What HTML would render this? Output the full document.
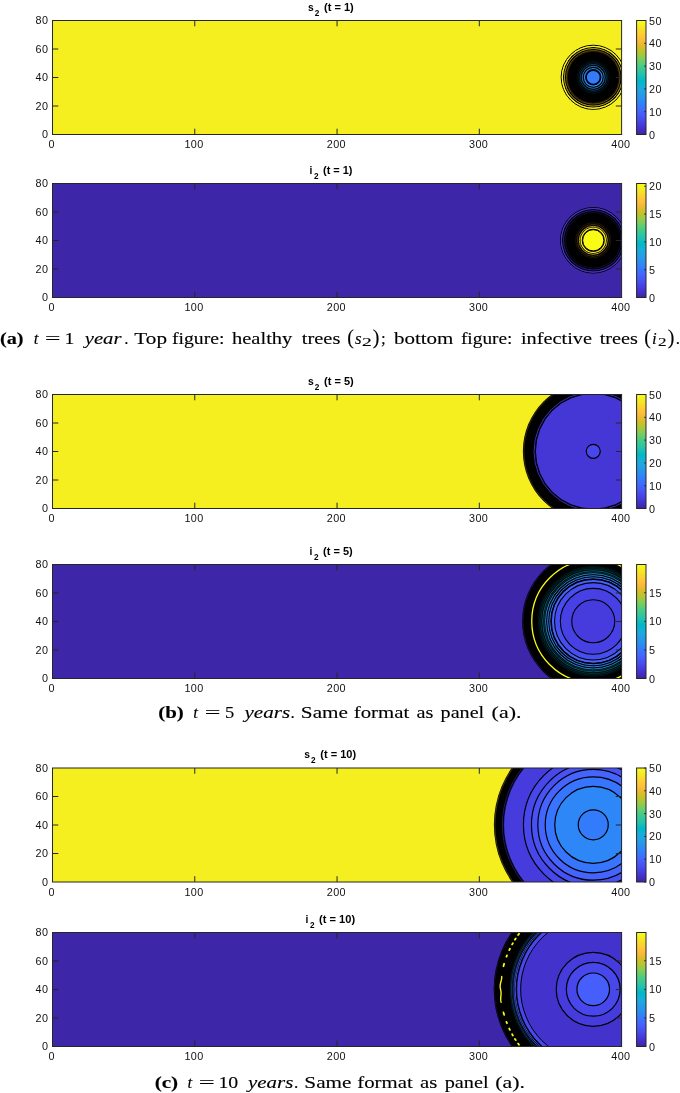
<!DOCTYPE html><html><head><meta charset="utf-8"><style>html,body{margin:0;padding:0;background:#fff;width:680px;height:1093px;overflow:hidden}svg{display:block}.tk{font-family:"Liberation Sans",Arial,Helvetica,sans-serif;font-size:10.8px;fill:#111}.tt{font-family:"Liberation Sans",Arial,Helvetica,sans-serif;font-size:10.3px;font-weight:bold;fill:#000}.ts{font-family:"Liberation Sans",Arial,Helvetica,sans-serif;font-size:8.2px;font-weight:bold;fill:#000}.cap{font-family:"Liberation Serif","DejaVu Serif",serif;fill:#000;stroke:#000;stroke-width:0.12px}.b{font-weight:bold}.i{font-style:italic}</style></head><body><svg width="680" height="1093" viewBox="0 0 680 1093"><defs><linearGradient id="pg" x1="0" y1="1" x2="0" y2="0"><stop offset="0.0078" stop-color="#3e26a8"/><stop offset="0.0234" stop-color="#402ab4"/><stop offset="0.0391" stop-color="#422ec0"/><stop offset="0.0547" stop-color="#4332cb"/><stop offset="0.0703" stop-color="#4537d5"/><stop offset="0.0859" stop-color="#463cde"/><stop offset="0.1016" stop-color="#4741e5"/><stop offset="0.1172" stop-color="#4747eb"/><stop offset="0.1328" stop-color="#484df0"/><stop offset="0.1484" stop-color="#4852f4"/><stop offset="0.1641" stop-color="#4758f8"/><stop offset="0.1797" stop-color="#465efb"/><stop offset="0.1953" stop-color="#4563fd"/><stop offset="0.2109" stop-color="#4269fe"/><stop offset="0.2266" stop-color="#3e6fff"/><stop offset="0.2422" stop-color="#3875fe"/><stop offset="0.2578" stop-color="#327cfc"/><stop offset="0.2734" stop-color="#2f81fa"/><stop offset="0.2891" stop-color="#2e87f7"/><stop offset="0.3047" stop-color="#2d8cf3"/><stop offset="0.3203" stop-color="#2b91ef"/><stop offset="0.3359" stop-color="#2797eb"/><stop offset="0.3516" stop-color="#259be8"/><stop offset="0.3672" stop-color="#23a0e5"/><stop offset="0.3828" stop-color="#20a5e3"/><stop offset="0.3984" stop-color="#1ca9df"/><stop offset="0.4141" stop-color="#18addb"/><stop offset="0.4297" stop-color="#12b1d6"/><stop offset="0.4453" stop-color="#08b5d0"/><stop offset="0.4609" stop-color="#01b8ca"/><stop offset="0.4766" stop-color="#02bac3"/><stop offset="0.4922" stop-color="#0bbdbd"/><stop offset="0.5078" stop-color="#19bfb6"/><stop offset="0.5234" stop-color="#24c1ae"/><stop offset="0.5391" stop-color="#2cc4a7"/><stop offset="0.5547" stop-color="#31c69f"/><stop offset="0.5703" stop-color="#37c897"/><stop offset="0.5859" stop-color="#3fca8e"/><stop offset="0.6016" stop-color="#4acb84"/><stop offset="0.6172" stop-color="#57cc7a"/><stop offset="0.6328" stop-color="#64cd6f"/><stop offset="0.6484" stop-color="#72cd64"/><stop offset="0.6641" stop-color="#81cc59"/><stop offset="0.6797" stop-color="#8fcb4e"/><stop offset="0.6953" stop-color="#9dc943"/><stop offset="0.7109" stop-color="#abc739"/><stop offset="0.7266" stop-color="#b9c431"/><stop offset="0.7422" stop-color="#c5c22a"/><stop offset="0.7578" stop-color="#d1bf27"/><stop offset="0.7734" stop-color="#dcbd29"/><stop offset="0.7891" stop-color="#e6bb2d"/><stop offset="0.8047" stop-color="#f0ba36"/><stop offset="0.8203" stop-color="#f8ba3d"/><stop offset="0.8359" stop-color="#febe3c"/><stop offset="0.8516" stop-color="#fec338"/><stop offset="0.8672" stop-color="#fec934"/><stop offset="0.8828" stop-color="#fccf30"/><stop offset="0.8984" stop-color="#fad62d"/><stop offset="0.9141" stop-color="#f7dc2a"/><stop offset="0.9297" stop-color="#f5e327"/><stop offset="0.9453" stop-color="#f5e924"/><stop offset="0.9609" stop-color="#f6ef20"/><stop offset="0.9766" stop-color="#f7f51b"/><stop offset="0.9922" stop-color="#f9fb15"/></linearGradient><clipPath id="c0"><rect x="52.50" y="20.50" width="569.10" height="114.00"/></clipPath><clipPath id="c1"><rect x="52.50" y="183.50" width="569.10" height="114.00"/></clipPath><clipPath id="c2"><rect x="52.50" y="394.50" width="569.10" height="114.00"/></clipPath><clipPath id="c3"><rect x="52.50" y="564.50" width="569.10" height="114.00"/></clipPath><clipPath id="c4"><rect x="52.50" y="768.00" width="569.10" height="114.00"/></clipPath><clipPath id="c5"><rect x="52.50" y="932.50" width="569.10" height="114.00"/></clipPath></defs><g><rect x="52.50" y="20.50" width="569.10" height="114.00" fill="#f6ef20"/><g clip-path="url(#c0)"><circle cx="593.25" cy="77.30" r="32.10" fill="none" stroke="#000" stroke-width="1.00"/><circle cx="593.25" cy="77.30" r="30.40" fill="#000"/><circle cx="593.25" cy="77.30" r="30.90" fill="none" stroke="#f7f51b" stroke-width="1.00"/><circle cx="593.25" cy="77.30" r="28.80" fill="none" stroke="#f7dc2a" stroke-width="0.90" opacity="0.85"/><circle cx="593.25" cy="77.30" r="26.80" fill="none" stroke="#febe3c" stroke-width="0.90" opacity="0.45"/><circle cx="593.25" cy="77.30" r="25.80" fill="none" stroke="#e6bb2d" stroke-width="0.80" opacity="0.15"/><circle cx="593.25" cy="77.30" r="16.20" fill="none" stroke="#18addb" stroke-width="0.80" opacity="0.12"/><circle cx="593.25" cy="77.30" r="14.60" fill="none" stroke="#20a5e3" stroke-width="0.80" opacity="0.22"/><circle cx="593.25" cy="77.30" r="13.00" fill="none" stroke="#259be8" stroke-width="0.90" opacity="0.45"/><circle cx="593.25" cy="77.30" r="11.00" fill="none" stroke="#2b91ef" stroke-width="1.00" opacity="0.80"/><circle cx="593.25" cy="77.30" r="8.80" fill="none" stroke="#2e87f7" stroke-width="1.20"/><circle cx="593.25" cy="77.30" r="7.00" fill="#327cfc" stroke="#000" stroke-width="1.20"/></g><path d="M194.78 134.50v-5.8M194.78 20.50v5.8M337.05 134.50v-5.8M337.05 20.50v5.8M479.32 134.50v-5.8M479.32 20.50v5.8M52.50 106.00h5.8M621.60 106.00h-5.8M52.50 77.50h5.8M621.60 77.50h-5.8M52.50 49.00h5.8M621.60 49.00h-5.8" stroke="#262626" stroke-width="1" fill="none"/><rect x="52.50" y="20.50" width="569.10" height="114.00" fill="none" stroke="#262626" stroke-width="1"/><text class="tk" x="47.9" y="138.40" text-anchor="end" textLength="6.25" lengthAdjust="spacing">0</text><text class="tk" x="47.9" y="109.90" text-anchor="end" textLength="12.50" lengthAdjust="spacing">20</text><text class="tk" x="47.9" y="81.40" text-anchor="end" textLength="12.50" lengthAdjust="spacing">40</text><text class="tk" x="47.9" y="52.90" text-anchor="end" textLength="12.50" lengthAdjust="spacing">60</text><text class="tk" x="47.9" y="24.40" text-anchor="end" textLength="12.50" lengthAdjust="spacing">80</text><text class="tk" x="51.60" y="148.20" text-anchor="middle" textLength="6.25" lengthAdjust="spacing">0</text><text class="tk" x="193.88" y="148.20" text-anchor="middle" textLength="18.75" lengthAdjust="spacing">100</text><text class="tk" x="336.15" y="148.20" text-anchor="middle" textLength="18.75" lengthAdjust="spacing">200</text><text class="tk" x="478.43" y="148.20" text-anchor="middle" textLength="18.75" lengthAdjust="spacing">300</text><text class="tk" x="620.70" y="148.20" text-anchor="middle" textLength="18.75" lengthAdjust="spacing">400</text><text class="tt" x="307.90" y="10.50">s</text><text class="ts" x="314.70" y="15.50">2</text><text class="tt" x="324.00" y="10.50" textLength="29.80" lengthAdjust="spacingAndGlyphs">(t = 1)</text><rect x="636.60" y="20.50" width="9.40" height="114.00" fill="url(#pg)" stroke="#262626" stroke-width="1"/><text class="tk" x="649.0" y="138.50" textLength="6.25" lengthAdjust="spacing">0</text><text class="tk" x="649.0" y="115.70" textLength="12.50" lengthAdjust="spacing">10</text><text class="tk" x="649.0" y="92.90" textLength="12.50" lengthAdjust="spacing">20</text><text class="tk" x="649.0" y="70.10" textLength="12.50" lengthAdjust="spacing">30</text><text class="tk" x="649.0" y="47.30" textLength="12.50" lengthAdjust="spacing">40</text><text class="tk" x="649.0" y="24.50" textLength="12.50" lengthAdjust="spacing">50</text><path d="M646.00 134.50h-1.8M646.00 111.70h-1.8M646.00 88.90h-1.8M646.00 66.10h-1.8M646.00 43.30h-1.8M646.00 20.50h-1.8" stroke="#262626" stroke-width="1" fill="none"/></g><g><rect x="52.50" y="183.50" width="569.10" height="114.00" fill="#3e26a8"/><g clip-path="url(#c1)"><circle cx="593.25" cy="240.30" r="32.80" fill="none" stroke="#000" stroke-width="1.00"/><circle cx="593.25" cy="240.30" r="31.30" fill="#000"/><circle cx="593.25" cy="240.30" r="31.90" fill="none" stroke="#4537d5" stroke-width="1.00"/><circle cx="593.25" cy="240.30" r="29.70" fill="none" stroke="#4332cb" stroke-width="0.90" opacity="0.70"/><circle cx="593.25" cy="240.30" r="27.70" fill="none" stroke="#422ec0" stroke-width="0.80" opacity="0.30"/><circle cx="593.25" cy="240.30" r="17.50" fill="none" stroke="#d1bf27" stroke-width="0.80" opacity="0.15"/><circle cx="593.25" cy="240.30" r="16.00" fill="none" stroke="#f8ba3d" stroke-width="0.80" opacity="0.30"/><circle cx="593.25" cy="240.30" r="14.00" fill="none" stroke="#fad62d" stroke-width="1.00" opacity="0.75"/><circle cx="593.25" cy="240.30" r="12.10" fill="none" stroke="#f6ef20" stroke-width="1.30"/><circle cx="593.25" cy="240.30" r="10.60" fill="#f9fb15" stroke="#000" stroke-width="1.00"/></g><path d="M194.78 297.50v-5.8M194.78 183.50v5.8M337.05 297.50v-5.8M337.05 183.50v5.8M479.32 297.50v-5.8M479.32 183.50v5.8M52.50 269.00h5.8M621.60 269.00h-5.8M52.50 240.50h5.8M621.60 240.50h-5.8M52.50 212.00h5.8M621.60 212.00h-5.8" stroke="#262626" stroke-width="1" fill="none"/><rect x="52.50" y="183.50" width="569.10" height="114.00" fill="none" stroke="#262626" stroke-width="1"/><text class="tk" x="47.9" y="301.40" text-anchor="end" textLength="6.25" lengthAdjust="spacing">0</text><text class="tk" x="47.9" y="272.90" text-anchor="end" textLength="12.50" lengthAdjust="spacing">20</text><text class="tk" x="47.9" y="244.40" text-anchor="end" textLength="12.50" lengthAdjust="spacing">40</text><text class="tk" x="47.9" y="215.90" text-anchor="end" textLength="12.50" lengthAdjust="spacing">60</text><text class="tk" x="47.9" y="187.40" text-anchor="end" textLength="12.50" lengthAdjust="spacing">80</text><text class="tk" x="51.60" y="311.20" text-anchor="middle" textLength="6.25" lengthAdjust="spacing">0</text><text class="tk" x="193.88" y="311.20" text-anchor="middle" textLength="18.75" lengthAdjust="spacing">100</text><text class="tk" x="336.15" y="311.20" text-anchor="middle" textLength="18.75" lengthAdjust="spacing">200</text><text class="tk" x="478.43" y="311.20" text-anchor="middle" textLength="18.75" lengthAdjust="spacing">300</text><text class="tk" x="620.70" y="311.20" text-anchor="middle" textLength="18.75" lengthAdjust="spacing">400</text><text class="tt" x="309.50" y="173.50">i</text><text class="ts" x="314.10" y="178.50">2</text><text class="tt" x="323.00" y="173.50" textLength="29.50" lengthAdjust="spacingAndGlyphs">(t = 1)</text><rect x="636.60" y="183.50" width="9.40" height="114.00" fill="url(#pg)" stroke="#262626" stroke-width="1"/><text class="tk" x="649.0" y="301.50" textLength="6.25" lengthAdjust="spacing">0</text><text class="tk" x="649.0" y="273.68" textLength="6.25" lengthAdjust="spacing">5</text><text class="tk" x="649.0" y="245.86" textLength="12.50" lengthAdjust="spacing">10</text><text class="tk" x="649.0" y="218.04" textLength="12.50" lengthAdjust="spacing">15</text><text class="tk" x="649.0" y="190.23" textLength="12.50" lengthAdjust="spacing">20</text><path d="M646.00 297.50h-1.8M646.00 269.68h-1.8M646.00 241.86h-1.8M646.00 214.04h-1.8M646.00 186.23h-1.8" stroke="#262626" stroke-width="1" fill="none"/></g><g><rect x="52.50" y="394.50" width="569.10" height="114.00" fill="#f6ef20"/><g clip-path="url(#c2)"><circle cx="593.25" cy="451.30" r="70.40" fill="#000"/><circle cx="593.25" cy="451.30" r="69.40" fill="none" stroke="#fccf30" stroke-width="0.70" opacity="0.30"/><circle cx="593.25" cy="451.30" r="59.20" fill="none" stroke="#4537d5" stroke-width="1.00" opacity="0.85"/><circle cx="593.25" cy="451.30" r="57.80" fill="#4537d5" stroke="#000" stroke-width="1.00"/><circle cx="593.25" cy="451.30" r="7.00" fill="#4747eb" stroke="#000" stroke-width="1.20"/></g><path d="M194.78 508.50v-5.8M194.78 394.50v5.8M337.05 508.50v-5.8M337.05 394.50v5.8M479.32 508.50v-5.8M479.32 394.50v5.8M52.50 480.00h5.8M621.60 480.00h-5.8M52.50 451.50h5.8M621.60 451.50h-5.8M52.50 423.00h5.8M621.60 423.00h-5.8" stroke="#262626" stroke-width="1" fill="none"/><rect x="52.50" y="394.50" width="569.10" height="114.00" fill="none" stroke="#262626" stroke-width="1"/><text class="tk" x="47.9" y="512.40" text-anchor="end" textLength="6.25" lengthAdjust="spacing">0</text><text class="tk" x="47.9" y="483.90" text-anchor="end" textLength="12.50" lengthAdjust="spacing">20</text><text class="tk" x="47.9" y="455.40" text-anchor="end" textLength="12.50" lengthAdjust="spacing">40</text><text class="tk" x="47.9" y="426.90" text-anchor="end" textLength="12.50" lengthAdjust="spacing">60</text><text class="tk" x="47.9" y="398.40" text-anchor="end" textLength="12.50" lengthAdjust="spacing">80</text><text class="tk" x="51.60" y="522.20" text-anchor="middle" textLength="6.25" lengthAdjust="spacing">0</text><text class="tk" x="193.88" y="522.20" text-anchor="middle" textLength="18.75" lengthAdjust="spacing">100</text><text class="tk" x="336.15" y="522.20" text-anchor="middle" textLength="18.75" lengthAdjust="spacing">200</text><text class="tk" x="478.43" y="522.20" text-anchor="middle" textLength="18.75" lengthAdjust="spacing">300</text><text class="tk" x="620.70" y="522.20" text-anchor="middle" textLength="18.75" lengthAdjust="spacing">400</text><text class="tt" x="307.90" y="384.50">s</text><text class="ts" x="314.70" y="389.50">2</text><text class="tt" x="324.00" y="384.50" textLength="29.80" lengthAdjust="spacingAndGlyphs">(t = 5)</text><rect x="636.60" y="394.50" width="9.40" height="114.00" fill="url(#pg)" stroke="#262626" stroke-width="1"/><text class="tk" x="649.0" y="512.50" textLength="6.25" lengthAdjust="spacing">0</text><text class="tk" x="649.0" y="489.70" textLength="12.50" lengthAdjust="spacing">10</text><text class="tk" x="649.0" y="466.90" textLength="12.50" lengthAdjust="spacing">20</text><text class="tk" x="649.0" y="444.10" textLength="12.50" lengthAdjust="spacing">30</text><text class="tk" x="649.0" y="421.30" textLength="12.50" lengthAdjust="spacing">40</text><text class="tk" x="649.0" y="398.50" textLength="12.50" lengthAdjust="spacing">50</text><path d="M646.00 508.50h-1.8M646.00 485.70h-1.8M646.00 462.90h-1.8M646.00 440.10h-1.8M646.00 417.30h-1.8M646.00 394.50h-1.8" stroke="#262626" stroke-width="1" fill="none"/></g><g><rect x="52.50" y="564.50" width="569.10" height="114.00" fill="#3e26a8"/><g clip-path="url(#c3)"><circle cx="593.25" cy="621.30" r="71.20" fill="#000"/><circle cx="593.25" cy="621.30" r="70.30" fill="none" stroke="#402ab4" stroke-width="0.70" opacity="0.50"/><circle cx="593.25" cy="621.30" r="61.50" fill="none" stroke="#f9fb15" stroke-width="1.30"/><circle cx="593.25" cy="621.30" r="55.00" fill="none" stroke="#08b5d0" stroke-width="0.90" opacity="0.12"/><circle cx="593.25" cy="621.30" r="53.80" fill="none" stroke="#08b5d0" stroke-width="0.90" opacity="0.20"/><circle cx="593.25" cy="621.30" r="52.40" fill="none" stroke="#08b5d0" stroke-width="0.90" opacity="0.30"/><circle cx="593.25" cy="621.30" r="50.60" fill="none" stroke="#12b1d6" stroke-width="0.90" opacity="0.55"/><circle cx="593.25" cy="621.30" r="49.20" fill="none" stroke="#1ca9df" stroke-width="0.90" opacity="0.30"/><circle cx="593.25" cy="621.30" r="47.70" fill="none" stroke="#259be8" stroke-width="1.00" opacity="0.85"/><circle cx="593.25" cy="621.30" r="45.60" fill="none" stroke="#2e87f7" stroke-width="1.00" opacity="0.95"/><circle cx="593.25" cy="621.30" r="43.50" fill="none" stroke="#3875fe" stroke-width="1.00"/><circle cx="593.25" cy="621.30" r="41.90" fill="#4563fd" stroke="#000" stroke-width="1.10"/><circle cx="593.25" cy="621.30" r="38.70" fill="#484df0" stroke="#000" stroke-width="1.10"/><circle cx="593.25" cy="621.30" r="32.90" fill="#4741e5" stroke="#000" stroke-width="1.10"/><circle cx="593.25" cy="621.30" r="21.50" fill="#463cde" stroke="#000" stroke-width="1.10"/></g><path d="M194.78 678.50v-5.8M194.78 564.50v5.8M337.05 678.50v-5.8M337.05 564.50v5.8M479.32 678.50v-5.8M479.32 564.50v5.8M52.50 650.00h5.8M621.60 650.00h-5.8M52.50 621.50h5.8M621.60 621.50h-5.8M52.50 593.00h5.8M621.60 593.00h-5.8" stroke="#262626" stroke-width="1" fill="none"/><rect x="52.50" y="564.50" width="569.10" height="114.00" fill="none" stroke="#262626" stroke-width="1"/><text class="tk" x="47.9" y="682.40" text-anchor="end" textLength="6.25" lengthAdjust="spacing">0</text><text class="tk" x="47.9" y="653.90" text-anchor="end" textLength="12.50" lengthAdjust="spacing">20</text><text class="tk" x="47.9" y="625.40" text-anchor="end" textLength="12.50" lengthAdjust="spacing">40</text><text class="tk" x="47.9" y="596.90" text-anchor="end" textLength="12.50" lengthAdjust="spacing">60</text><text class="tk" x="47.9" y="568.40" text-anchor="end" textLength="12.50" lengthAdjust="spacing">80</text><text class="tk" x="51.60" y="692.20" text-anchor="middle" textLength="6.25" lengthAdjust="spacing">0</text><text class="tk" x="193.88" y="692.20" text-anchor="middle" textLength="18.75" lengthAdjust="spacing">100</text><text class="tk" x="336.15" y="692.20" text-anchor="middle" textLength="18.75" lengthAdjust="spacing">200</text><text class="tk" x="478.43" y="692.20" text-anchor="middle" textLength="18.75" lengthAdjust="spacing">300</text><text class="tk" x="620.70" y="692.20" text-anchor="middle" textLength="18.75" lengthAdjust="spacing">400</text><text class="tt" x="309.50" y="554.50">i</text><text class="ts" x="314.10" y="559.50">2</text><text class="tt" x="323.00" y="554.50" textLength="29.70" lengthAdjust="spacingAndGlyphs">(t = 5)</text><rect x="636.60" y="564.50" width="9.40" height="114.00" fill="url(#pg)" stroke="#262626" stroke-width="1"/><text class="tk" x="649.0" y="682.50" textLength="6.25" lengthAdjust="spacing">0</text><text class="tk" x="649.0" y="653.90" textLength="6.25" lengthAdjust="spacing">5</text><text class="tk" x="649.0" y="625.30" textLength="12.50" lengthAdjust="spacing">10</text><text class="tk" x="649.0" y="596.70" textLength="12.50" lengthAdjust="spacing">15</text><path d="M646.00 678.50h-1.8M646.00 649.90h-1.8M646.00 621.30h-1.8M646.00 592.70h-1.8" stroke="#262626" stroke-width="1" fill="none"/></g><g><rect x="52.50" y="768.00" width="569.10" height="114.00" fill="#f6ef20"/><g clip-path="url(#c4)"><circle cx="593.25" cy="824.80" r="99.40" fill="#000"/><circle cx="593.25" cy="824.80" r="98.40" fill="none" stroke="#f7dc2a" stroke-width="0.60" opacity="0.40"/><circle cx="593.25" cy="824.80" r="90.90" fill="none" stroke="#463cde" stroke-width="0.70" opacity="0.60"/><circle cx="593.25" cy="824.80" r="89.60" fill="#463cde" stroke="#000" stroke-width="0.70"/><circle cx="593.25" cy="824.80" r="69.80" fill="#4747eb" stroke="#000" stroke-width="1.20"/><circle cx="593.25" cy="824.80" r="61.80" fill="#4852f4" stroke="#000" stroke-width="1.20"/><circle cx="593.25" cy="824.80" r="55.40" fill="#4563fd" stroke="#000" stroke-width="1.20"/><circle cx="593.25" cy="824.80" r="48.00" fill="#3875fe" stroke="#000" stroke-width="1.20"/><circle cx="593.25" cy="824.80" r="38.50" fill="#2e87f7" stroke="#000" stroke-width="1.20"/><circle cx="593.25" cy="824.80" r="15.00" fill="#327cfc" stroke="#000" stroke-width="1.20"/></g><path d="M194.78 882.00v-5.8M194.78 768.00v5.8M337.05 882.00v-5.8M337.05 768.00v5.8M479.32 882.00v-5.8M479.32 768.00v5.8M52.50 853.50h5.8M621.60 853.50h-5.8M52.50 825.00h5.8M621.60 825.00h-5.8M52.50 796.50h5.8M621.60 796.50h-5.8" stroke="#262626" stroke-width="1" fill="none"/><rect x="52.50" y="768.00" width="569.10" height="114.00" fill="none" stroke="#262626" stroke-width="1"/><text class="tk" x="47.9" y="885.90" text-anchor="end" textLength="6.25" lengthAdjust="spacing">0</text><text class="tk" x="47.9" y="857.40" text-anchor="end" textLength="12.50" lengthAdjust="spacing">20</text><text class="tk" x="47.9" y="828.90" text-anchor="end" textLength="12.50" lengthAdjust="spacing">40</text><text class="tk" x="47.9" y="800.40" text-anchor="end" textLength="12.50" lengthAdjust="spacing">60</text><text class="tk" x="47.9" y="771.90" text-anchor="end" textLength="12.50" lengthAdjust="spacing">80</text><text class="tk" x="51.60" y="895.70" text-anchor="middle" textLength="6.25" lengthAdjust="spacing">0</text><text class="tk" x="193.88" y="895.70" text-anchor="middle" textLength="18.75" lengthAdjust="spacing">100</text><text class="tk" x="336.15" y="895.70" text-anchor="middle" textLength="18.75" lengthAdjust="spacing">200</text><text class="tk" x="478.43" y="895.70" text-anchor="middle" textLength="18.75" lengthAdjust="spacing">300</text><text class="tk" x="620.70" y="895.70" text-anchor="middle" textLength="18.75" lengthAdjust="spacing">400</text><text class="tt" x="304.20" y="758.00">s</text><text class="ts" x="311.00" y="763.00">2</text><text class="tt" x="320.30" y="758.00" textLength="35.80" lengthAdjust="spacingAndGlyphs">(t = 10)</text><rect x="636.60" y="768.00" width="9.40" height="114.00" fill="url(#pg)" stroke="#262626" stroke-width="1"/><text class="tk" x="649.0" y="886.00" textLength="6.25" lengthAdjust="spacing">0</text><text class="tk" x="649.0" y="863.20" textLength="12.50" lengthAdjust="spacing">10</text><text class="tk" x="649.0" y="840.40" textLength="12.50" lengthAdjust="spacing">20</text><text class="tk" x="649.0" y="817.60" textLength="12.50" lengthAdjust="spacing">30</text><text class="tk" x="649.0" y="794.80" textLength="12.50" lengthAdjust="spacing">40</text><text class="tk" x="649.0" y="772.00" textLength="12.50" lengthAdjust="spacing">50</text><path d="M646.00 882.00h-1.8M646.00 859.20h-1.8M646.00 836.40h-1.8M646.00 813.60h-1.8M646.00 790.80h-1.8M646.00 768.00h-1.8" stroke="#262626" stroke-width="1" fill="none"/></g><g><rect x="52.50" y="932.50" width="569.10" height="114.00" fill="#3e26a8"/><g clip-path="url(#c5)"><circle cx="593.25" cy="989.30" r="99.60" fill="#000"/><circle cx="593.25" cy="989.30" r="98.80" fill="none" stroke="#402ab4" stroke-width="0.60" opacity="0.40"/><path d="M503.46 966.25A92.7 92.7 0 0 1 504.14 963.75M504.14 1014.85A92.7 92.7 0 0 1 503.46 1012.35M506.45 956.76A92.7 92.7 0 0 1 506.97 955.40M506.97 1023.20A92.7 92.7 0 0 1 506.45 1021.84M509.27 950.05A92.7 92.7 0 0 1 509.90 948.74M509.90 1029.86A92.7 92.7 0 0 1 509.27 1028.55M512.13 944.43A92.7 92.7 0 0 1 512.85 943.16M512.85 1035.44A92.7 92.7 0 0 1 512.13 1034.17M514.94 939.70A92.7 92.7 0 0 1 515.73 938.47M515.73 1040.13A92.7 92.7 0 0 1 514.94 1038.90M518.11 935.01A92.7 92.7 0 0 1 518.97 933.84M518.97 1044.76A92.7 92.7 0 0 1 518.11 1043.59" fill="none" stroke="#f9fb15" stroke-width="1.8" stroke-linecap="round"/><path d="M501.17 1002.24L500.96 1001.45L500.80 1000.65L500.71 999.84L500.67 999.03L500.69 998.21L500.75 997.39L500.84 996.57L500.93 995.76L501.01 994.94L501.07 994.13L501.08 993.32L501.05 992.52L500.97 991.72L500.85 990.91L500.71 990.11L500.55 989.30L500.40 988.49L500.27 987.68L500.19 986.86L500.16 986.05L500.20 985.24L500.29 984.43L500.43 983.62L500.62 982.82L500.84 982.03L501.06 981.23L501.26 980.44L501.45 979.65L501.59 978.86L501.68 978.06L501.73 977.25L501.74 976.44" fill="none" stroke="#f7f51b" stroke-width="1.4" stroke-linecap="round"/><circle cx="593.25" cy="989.30" r="83.00" fill="none" stroke="#20a5e3" stroke-width="0.80" opacity="0.20"/><circle cx="593.25" cy="989.30" r="81.80" fill="none" stroke="#2b91ef" stroke-width="0.90" opacity="0.40"/><circle cx="593.25" cy="989.30" r="80.60" fill="none" stroke="#327cfc" stroke-width="0.80" opacity="0.25"/><circle cx="593.25" cy="989.30" r="79.30" fill="none" stroke="#4563fd" stroke-width="1.00" opacity="0.75"/><circle cx="593.25" cy="989.30" r="78.00" fill="none" stroke="#4758f8" stroke-width="1.00" opacity="0.85"/><circle cx="593.25" cy="989.30" r="76.60" fill="#4747eb" stroke="#000" stroke-width="0.90"/><circle cx="593.25" cy="989.30" r="72.60" fill="#4332cb" stroke="#000" stroke-width="1.00"/><circle cx="593.25" cy="989.30" r="37.00" fill="#463cde" stroke="#000" stroke-width="1.20"/><circle cx="593.25" cy="989.30" r="26.90" fill="#4747eb" stroke="#000" stroke-width="1.20"/><circle cx="593.25" cy="989.30" r="16.30" fill="#465efb" stroke="#000" stroke-width="1.20"/></g><path d="M194.78 1046.50v-5.8M194.78 932.50v5.8M337.05 1046.50v-5.8M337.05 932.50v5.8M479.32 1046.50v-5.8M479.32 932.50v5.8M52.50 1018.00h5.8M621.60 1018.00h-5.8M52.50 989.50h5.8M621.60 989.50h-5.8M52.50 961.00h5.8M621.60 961.00h-5.8" stroke="#262626" stroke-width="1" fill="none"/><rect x="52.50" y="932.50" width="569.10" height="114.00" fill="none" stroke="#262626" stroke-width="1"/><text class="tk" x="47.9" y="1050.40" text-anchor="end" textLength="6.25" lengthAdjust="spacing">0</text><text class="tk" x="47.9" y="1021.90" text-anchor="end" textLength="12.50" lengthAdjust="spacing">20</text><text class="tk" x="47.9" y="993.40" text-anchor="end" textLength="12.50" lengthAdjust="spacing">40</text><text class="tk" x="47.9" y="964.90" text-anchor="end" textLength="12.50" lengthAdjust="spacing">60</text><text class="tk" x="47.9" y="936.40" text-anchor="end" textLength="12.50" lengthAdjust="spacing">80</text><text class="tk" x="51.60" y="1060.20" text-anchor="middle" textLength="6.25" lengthAdjust="spacing">0</text><text class="tk" x="193.88" y="1060.20" text-anchor="middle" textLength="18.75" lengthAdjust="spacing">100</text><text class="tk" x="336.15" y="1060.20" text-anchor="middle" textLength="18.75" lengthAdjust="spacing">200</text><text class="tk" x="478.43" y="1060.20" text-anchor="middle" textLength="18.75" lengthAdjust="spacing">300</text><text class="tk" x="620.70" y="1060.20" text-anchor="middle" textLength="18.75" lengthAdjust="spacing">400</text><text class="tt" x="305.50" y="922.50">i</text><text class="ts" x="310.10" y="927.50">2</text><text class="tt" x="319.00" y="922.50" textLength="36.10" lengthAdjust="spacingAndGlyphs">(t = 10)</text><rect x="636.60" y="932.50" width="9.40" height="114.00" fill="url(#pg)" stroke="#262626" stroke-width="1"/><text class="tk" x="649.0" y="1050.50" textLength="6.25" lengthAdjust="spacing">0</text><text class="tk" x="649.0" y="1021.90" textLength="6.25" lengthAdjust="spacing">5</text><text class="tk" x="649.0" y="993.30" textLength="12.50" lengthAdjust="spacing">10</text><text class="tk" x="649.0" y="964.70" textLength="12.50" lengthAdjust="spacing">15</text><path d="M646.00 1046.50h-1.8M646.00 1017.90h-1.8M646.00 989.30h-1.8M646.00 960.70h-1.8" stroke="#262626" stroke-width="1" fill="none"/></g><text class="cap" x="0.01" y="343.60" textLength="23.58" lengthAdjust="spacingAndGlyphs" style="font-size:17.00px;font-weight:bold">(a)</text><text class="cap" x="33.73" y="343.60" style="font-size:17.00px;font-style:italic">t</text><text class="cap" x="44.99" y="343.60" textLength="15.47" lengthAdjust="spacingAndGlyphs" style="font-size:17.00px">=</text><text class="cap" x="64.45" y="343.60" textLength="9.92" lengthAdjust="spacingAndGlyphs" style="font-size:17.00px">1</text><text class="cap" x="84.72" y="343.60" textLength="36.74" lengthAdjust="spacingAndGlyphs" style="font-size:17.00px;font-style:italic">year</text><text class="cap" x="124.17" y="343.60" style="font-size:17.00px">.</text><text class="cap" x="134.39" y="343.60" textLength="32.59" lengthAdjust="spacingAndGlyphs" style="font-size:17.00px">Top</text><text class="cap" x="172.02" y="343.60" textLength="52.41" lengthAdjust="spacingAndGlyphs" style="font-size:17.00px">figure:</text><text class="cap" x="232.00" y="343.60" textLength="60.36" lengthAdjust="spacingAndGlyphs" style="font-size:17.00px">healthy</text><text class="cap" x="301.80" y="343.60" textLength="38.61" lengthAdjust="spacingAndGlyphs" style="font-size:17.00px">trees</text><text class="cap" x="347.27" y="344.20" style="font-size:19.90px">(</text><text class="cap" x="355.10" y="343.60" style="font-size:17.00px;font-style:italic">s</text><text class="cap" x="361.95" y="345.80" textLength="9.81" lengthAdjust="spacingAndGlyphs" style="font-size:11.50px">2</text><text class="cap" x="372.77" y="344.20" style="font-size:19.90px">)</text><text class="cap" x="380.88" y="343.60" style="font-size:17.00px">;</text><text class="cap" x="393.90" y="343.60" textLength="59.51" lengthAdjust="spacingAndGlyphs" style="font-size:17.00px">bottom</text><text class="cap" x="460.93" y="343.60" textLength="51.58" lengthAdjust="spacingAndGlyphs" style="font-size:17.00px">figure:</text><text class="cap" x="520.90" y="343.60" textLength="71.06" lengthAdjust="spacingAndGlyphs" style="font-size:17.00px">infective</text><text class="cap" x="599.70" y="343.60" textLength="38.31" lengthAdjust="spacingAndGlyphs" style="font-size:17.00px">trees</text><text class="cap" x="644.27" y="344.20" style="font-size:19.90px">(</text><text class="cap" x="651.98" y="343.60" style="font-size:17.00px;font-style:italic">i</text><text class="cap" x="658.05" y="345.80" textLength="8.59" lengthAdjust="spacingAndGlyphs" style="font-size:11.50px">2</text><text class="cap" x="667.73" y="344.20" style="font-size:19.90px">)</text><text class="cap" x="675.83" y="343.60" style="font-size:17.00px">.</text><text class="cap" x="158.28" y="718.00" textLength="25.58" lengthAdjust="spacingAndGlyphs" style="font-size:17.00px;font-weight:bold">(b)</text><text class="cap" x="193.22" y="718.00" style="font-size:17.00px;font-style:italic">t</text><text class="cap" x="204.87" y="718.00" textLength="15.71" lengthAdjust="spacingAndGlyphs" style="font-size:17.00px">=</text><text class="cap" x="225.11" y="718.00" textLength="9.23" lengthAdjust="spacingAndGlyphs" style="font-size:17.00px">5</text><text class="cap" x="244.46" y="718.00" textLength="45.66" lengthAdjust="spacingAndGlyphs" style="font-size:17.00px;font-style:italic">years</text><text class="cap" x="290.38" y="718.00" style="font-size:17.00px">.</text><text class="cap" x="300.85" y="718.00" textLength="47.11" lengthAdjust="spacingAndGlyphs" style="font-size:17.00px">Same</text><text class="cap" x="353.79" y="718.00" textLength="55.41" lengthAdjust="spacingAndGlyphs" style="font-size:17.00px">format</text><text class="cap" x="416.50" y="718.00" textLength="16.90" lengthAdjust="spacingAndGlyphs" style="font-size:17.00px">as</text><text class="cap" x="440.60" y="718.00" textLength="43.58" lengthAdjust="spacingAndGlyphs" style="font-size:17.00px">panel</text><text class="cap" x="491.63" y="718.00" textLength="29.82" lengthAdjust="spacingAndGlyphs" style="font-size:17.00px">(a).</text><text class="cap" x="154.67" y="1088.10" textLength="23.51" lengthAdjust="spacingAndGlyphs" style="font-size:17.00px;font-weight:bold">(c)</text><text class="cap" x="187.43" y="1088.10" style="font-size:17.00px;font-style:italic">t</text><text class="cap" x="198.65" y="1088.10" textLength="15.95" lengthAdjust="spacingAndGlyphs" style="font-size:17.00px">=</text><text class="cap" x="218.45" y="1088.10" textLength="19.83" lengthAdjust="spacingAndGlyphs" style="font-size:17.00px">10</text><text class="cap" x="248.04" y="1088.10" textLength="45.27" lengthAdjust="spacingAndGlyphs" style="font-size:17.00px;font-style:italic">years</text><text class="cap" x="293.92" y="1088.10" style="font-size:17.00px">.</text><text class="cap" x="304.35" y="1088.10" textLength="47.11" lengthAdjust="spacingAndGlyphs" style="font-size:17.00px">Same</text><text class="cap" x="357.29" y="1088.10" textLength="55.41" lengthAdjust="spacingAndGlyphs" style="font-size:17.00px">format</text><text class="cap" x="419.99" y="1088.10" textLength="17.33" lengthAdjust="spacingAndGlyphs" style="font-size:17.00px">as</text><text class="cap" x="444.70" y="1088.10" textLength="43.89" lengthAdjust="spacingAndGlyphs" style="font-size:17.00px">panel</text><text class="cap" x="495.24" y="1088.10" textLength="29.71" lengthAdjust="spacingAndGlyphs" style="font-size:17.00px">(a).</text></svg></body></html>
